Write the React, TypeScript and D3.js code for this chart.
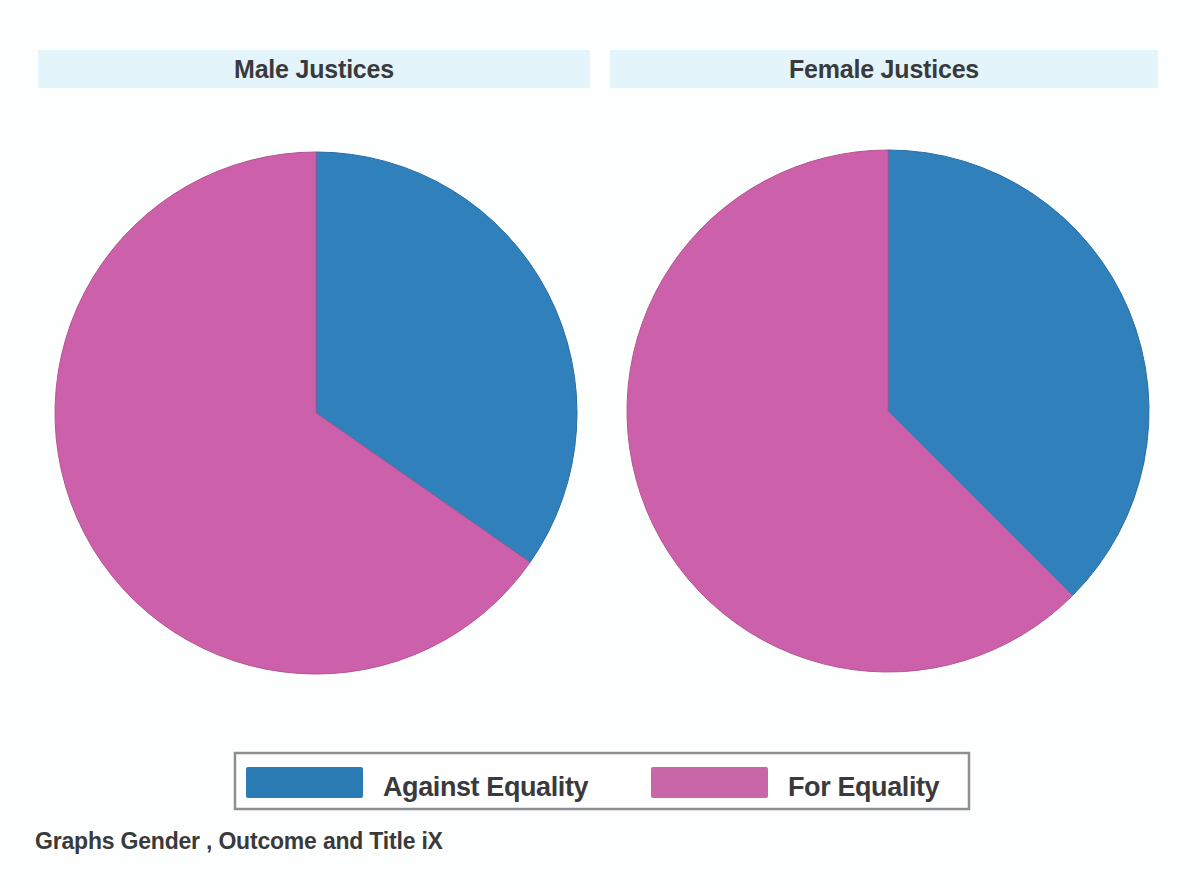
import React from "react";
import * as d3 from "d3";

const width = 1201;
const height = 888;

const categories = ["Against Equality", "For Equality"];
const panelTitles = ["Male Justices", "Female Justices"];
const maleShares = [34.7, 65.3];
const femaleShares = [37.5, 62.5];
const caption = "Graphs Gender , Outcome and Title iX";

const colors = ["#2f80bb", "#cd60aa"];
const legendColors = ["#2b7bb5", "#c866a8"];

const font = "'Liberation Sans', Arial, sans-serif";

const panels = [
  { title: panelTitles[0], values: maleShares, cx: 316, cy: 413, band: [38, 590] },
  { title: panelTitles[1], values: femaleShares, cx: 888, cy: 411, band: [610, 1158] },
];

const radius = 261;

export default function App() {
  const pie = d3
    .pie<number>()
    .sort(null)
    .value((d) => d);
  const arc = d3.arc<d3.PieArcDatum<number>>().innerRadius(0).outerRadius(radius);

  return (
    <svg
      width={width}
      height={height}
      style={{ position: "absolute", left: 0, top: 0, background: "#fff" }}
      fontFamily={font}
    >
      <rect width={width} height={height} fill="#fdfefe" />
      {panels.map((p, i) => (
        <g key={i}>
          <rect
            x={p.band[0]}
            y={50}
            width={p.band[1] - p.band[0]}
            height={38}
            fill="#e3f4fa"
          />
          <text
            x={(p.band[0] + p.band[1]) / 2}
            y={78}
            textAnchor="middle"
            fontSize={25}
            fontWeight="bold"
            fill="#3a3a3c"
            letterSpacing={-0.2}
          >
            {p.title}
          </text>
          <g transform={`translate(${p.cx},${p.cy})`}>
            {pie(p.values).map((a, j) => (
              <path
                key={j}
                d={arc(a) || ""}
                fill={colors[j]}
                stroke={j === 0 ? "#2a6ea3" : "#b4568f"}
                strokeWidth={1}
              />
            ))}
          </g>
        </g>
      ))}

      {/* legend */}
      <rect x={235} y={753} width={734} height={56} fill="#fff" stroke="#8e8e93" strokeWidth={2.5} />
      {categories.map((c, i) => {
        const x0 = i === 0 ? 246 : 651;
        return (
          <g key={c}>
            <rect x={x0} y={767} width={117} height={31} rx={2} fill={legendColors[i]} />
            <text
              x={x0 + 137}
              y={796}
              fontSize={27}
              fontWeight="bold"
              fill="#3a3a3c"
              letterSpacing={-0.4}
            >
              {c}
            </text>
          </g>
        );
      })}

      <text x={35} y={849} fontSize={23} fontWeight="bold" fill="#3a3a3c" letterSpacing={-0.2}>
        {caption}
      </text>
    </svg>
  );
}
